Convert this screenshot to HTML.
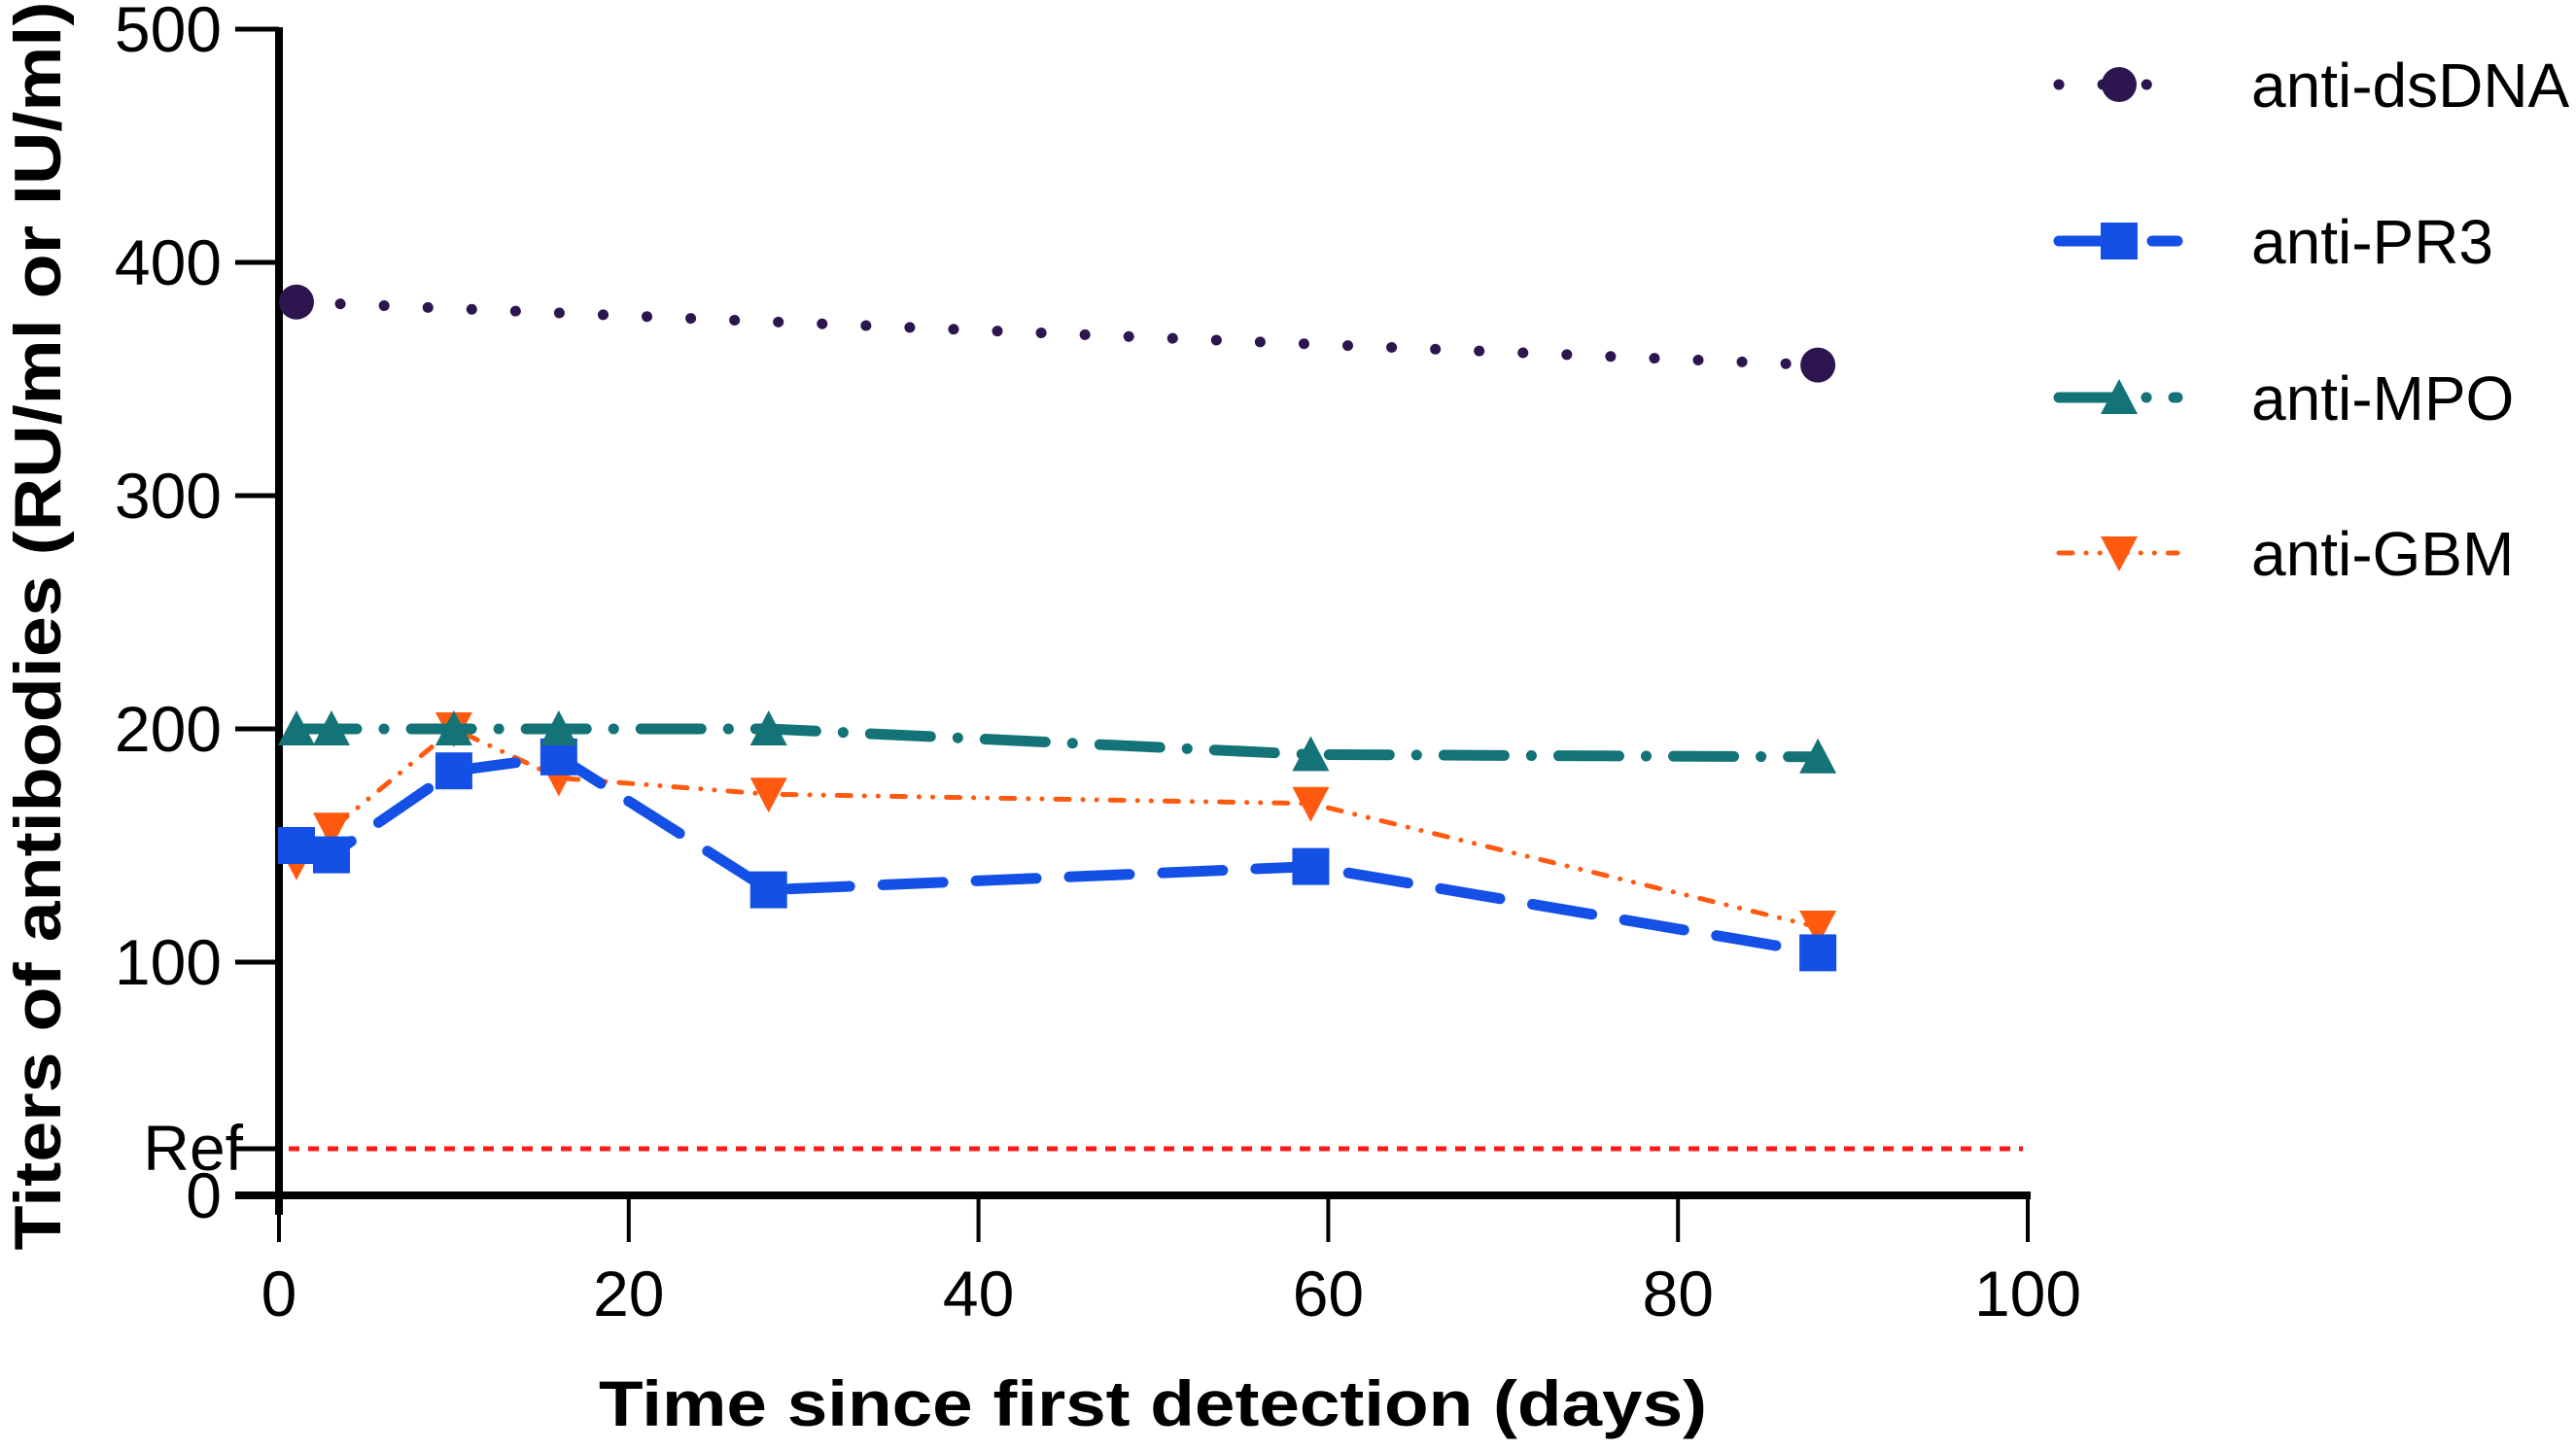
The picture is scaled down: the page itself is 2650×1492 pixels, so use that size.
<!DOCTYPE html>
<html><head><meta charset="utf-8"><style>
html,body{margin:0;padding:0;background:#fff;}
svg{display:block;font-family:"Liberation Sans",Arial,sans-serif;}
</style></head><body>
<svg id="chart" width="2650" height="1492" viewBox="0 0 2650 1492" xmlns="http://www.w3.org/2000/svg">
<g id="axes"></g>
<g id="series"></g>
<g id="legend"></g>
<text x="1186" y="1467" text-anchor="middle" font-size="66" font-weight="bold" textLength="1140" lengthAdjust="spacingAndGlyphs">Time since first detection (days)</text>
<text transform="translate(62,644) rotate(-90)" text-anchor="middle" font-size="68" font-weight="bold" textLength="1285" lengthAdjust="spacingAndGlyphs">Titers of antibodies (RU/ml or IU/ml)</text>
</svg>
<script>
const xTicks = [0,20,40,60,80,100];
const yTicks = [0,100,200,300,400,500];
const refValue = 20;
const seriesNames = ["anti-dsDNA","anti-PR3","anti-MPO","anti-GBM"];
const dsdnaX = [1,88];
const dsdnaY = [383,356];
const pr3X = [1,3,10,16,28,59,88];
const pr3Y = [150,146,182,188,131,141,104];
const mpoX = [1,3,10,16,28,59,88];
const mpoY = [200,200,200,200,200,189,188];
const gbmX = [1,3,10,16,28,59,88];
const gbmY = [143,157,200,179,172,168,115];

const NS="http://www.w3.org/2000/svg";
const X0=287,X1=2086,Y0=1230,Y1=30;
const sx=v=>X0+(v-0)/100*(X1-X0);
const sy=v=>Y0-(v-0)/500*(Y0-Y1);
function mk(tag,attrs,parent){const e=document.createElementNS(NS,tag);for(const k in attrs)e.setAttribute(k,attrs[k]);parent.appendChild(e);return e;}
const axes=document.getElementById('axes');
const ser=document.getElementById('series');
const leg=document.getElementById('legend');

let e;
e=mk('line',{x1:X0,y1:Y1-2,x2:X0,y2:Y0+20,stroke:'#000','stroke-width':8},axes);


e=mk('line',{x1:242,y1:Y0,x2:X1+3,y2:Y0,stroke:'#000','stroke-width':8},axes);


yTicks.forEach(v=>{
  const t=mk('line',{x1:242,y1:sy(v),x2:X0,y2:sy(v),stroke:'#000','stroke-width':5},axes);
  
  
  const l=mk('text',{x:228,y:sy(v)+23,'text-anchor':'end','font-size':66},axes);
  l.textContent=v;
  
  
});
xTicks.forEach(v=>{
  const t=mk('line',{x1:sx(v),y1:Y0,x2:sx(v),y2:Y0+48,stroke:'#000','stroke-width':4},axes);
  
  
  const l=mk('text',{x:sx(v),y:Y0+124,'text-anchor':'middle','font-size':66},axes);
  l.textContent=v;
  
  
});
e=mk('line',{x1:242,y1:sy(refValue),x2:X0,y2:sy(refValue),stroke:'#000','stroke-width':5},axes);


e=mk('text',{x:250,y:sy(refValue)+22,'text-anchor':'end','font-size':66},axes);
e.textContent='Ref';


e=mk('line',{x1:X0+10,y1:sy(refValue),x2:X1-5,y2:sy(refValue),stroke:'#ff1a1a','stroke-width':5,'stroke-dasharray':'11 9'},ser);



const styles=[
 {c:'#2d1650',w:11,d:'0.1 45',cap:'round',m:'circle'},
 {c:'#1450e6',w:11,d:'62 34',cap:'round',m:'square'},
 {c:'#137377',w:11,d:'62 28 0.1 28',cap:'round',m:'up'},
 {c:'#ff5a0f',w:5,d:'14 14 0.1 14 0.1 14',cap:'round',m:'down'}
];
const data=[[dsdnaX,dsdnaY],[pr3X,pr3Y],[mpoX,mpoY],[gbmX,gbmY]];
function marker(type,x,y,c,parent){
  if(type==='circle')return mk('circle',{cx:x,cy:y,r:18,fill:c},parent);
  if(type==='square')return mk('rect',{x:x-19,y:y-19,width:38,height:38,fill:c},parent);
  if(type==='up')return mk('polygon',{points:`${x-19},${y+17} ${x+19},${y+17} ${x},${y-19}`,fill:c},parent);
  return mk('polygon',{points:`${x-19},${y-17} ${x+19},${y-17} ${x},${y+19}`,fill:c},parent);
}
const order=[3,1,2,0];
order.forEach(i=>{
  const [xs,ys]=data[i];const s=styles[i];
  const g=mk('g',{},ser);
  
  
  const pts=xs.map((x,j)=>sx(x)+','+sy(ys[j])).join(' ');
  const pl=mk('polyline',{points:pts,fill:'none',stroke:s.c,'stroke-width':s.w,'stroke-dasharray':s.d,'stroke-linecap':s.cap},g);
  
  
  xs.forEach((x,j)=>{
    const m=marker(s.m,sx(x),sy(ys[j]),s.c,g);
    
    
  });
});
const legY=[87,248,409,569];
seriesNames.forEach((n,i)=>{
  const s=styles[i];
  const g=mk('g',{},leg);
  
  
  mk('line',{x1:2118,y1:legY[i],x2:2240,y2:legY[i],stroke:s.c,'stroke-width':s.w,'stroke-dasharray':s.d,'stroke-linecap':s.cap},g);
  marker(s.m,2180,legY[i],s.c,g);
  const t=mk('text',{x:2316,y:legY[i]+23,'font-size':64},g);
  t.textContent=n;
});
</script>
</body></html>
